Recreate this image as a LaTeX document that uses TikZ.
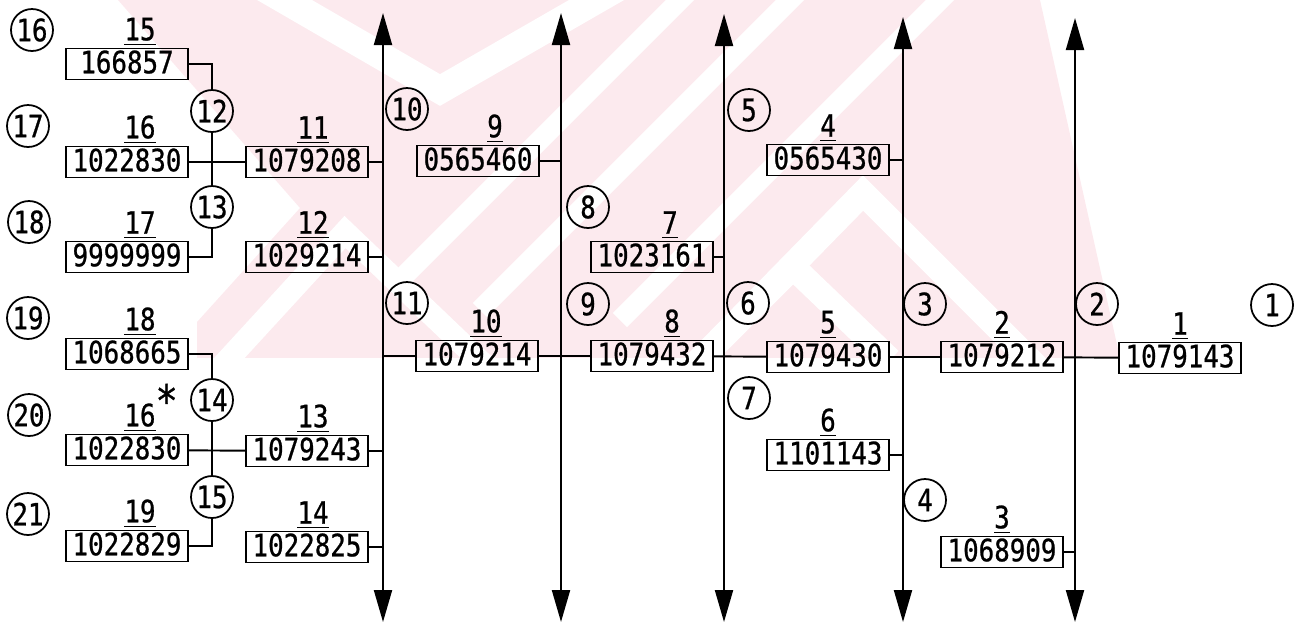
\documentclass[tikz,border=0pt]{standalone}
\usepackage{fontspec}
\usetikzlibrary{arrows.meta,positioning}
\newfontfamily\tapefont[FakeStretch=0.84,FakeBold=0.8]{DejaVu Sans Mono}
\definecolor{wash}{RGB}{252,234,238}
% underlined item number
\newcommand{\idn}[1]{\vtop{\hbox{#1}\kern1.6pt\hrule height 1.1pt}}

\begin{document}
\begin{tikzpicture}[
x=0.02cm, y=-0.02cm,
font=\tapefont\fontsize{17.5}{19}\selectfont,
box/.style={rectangle, draw, line width=1.1pt, minimum width=2.44cm, minimum height=0.62cm, inner sep=0pt, text height=0.47cm, text depth=0.1cm, label distance=0.1cm},
idx/.style={inner sep=1pt},
tag/.style={circle, draw, line width=1pt, minimum size=0.84cm, inner sep=0pt},
bus/.style={line width=1.2pt, {Triangle[length=0.64cm,width=0.36cm]}-{Triangle[length=0.64cm,width=0.36cm]}},
wire/.style={line width=1.1pt}
]
\useasboundingbox (0,0) rectangle (1300,627);

% pale stripes behind the upper half
\begin{scope}
\clip (118,0) -- (1040,0) -- (1120,358) -- (197,358) -- (197,322) -- (300,208) -- cycle;
\fill[wash] (0,0) rectangle (1300,358);
\draw[white, line width=0.55cm] (250,-20) -- (440,90) -- (640,-25);
\draw[white, line width=0.45cm] (200,390) -- (345,232) -- (500,380);
\draw[white, line width=0.4cm] (400,280) -- (690,-10);
\draw[white, line width=0.4cm] (480,310) -- (800,-10);
\draw[white, line width=0.4cm] (620,320) -- (950,-10);
\draw[white, line width=0.5cm] (680,380) -- (863,193) -- (1050,380);
\draw[white, line width=0.5cm] (700,360) -- (793,267) -- (890,360);
\end{scope}

% buses
\coordinate (t1) at (383,13);  \coordinate (u1) at (383,622);
\coordinate (t2) at (561,13);  \coordinate (u2) at (561,622);
\coordinate (t3) at (724,14);  \coordinate (u3) at (724,622);
\coordinate (t4) at (903,17);  \coordinate (u4) at (903,622);
\coordinate (t5) at (1075,18); \coordinate (u5) at (1075,622);
\foreach \n in {1,...,5}
  \draw[bus] (u\n) -- (t\n);

% boxes with their numbers
\node[box, label={[idx, xshift=0.26cm]above:\idn{15}}] (b15) at (127,64) {166857};
\node[box, label={[idx, xshift=0.26cm]above:\idn{16}}] (b16) at (127,162) {1022830};
\node[box, label={[idx, xshift=0.26cm]above:\idn{17}}] (b17) at (127,257) {9999999};
\node[box, label={[idx, xshift=0.26cm]above:\idn{18}}] (b18) at (127,354) {1068665};
\node[box, label={[idx, xshift=0.26cm]above:\idn{16}\rlap{\raisebox{0.32em}{\fontsize{25}{25}\selectfont*}}}] (b16s) at (127,450) {1022830};
\node[box, label={[idx, xshift=0.26cm]above:\idn{19}}] (b19) at (127,546) {1022829};

\node[box, label={[idx, xshift=0.12cm]above:\idn{11}}] (b11) at (307,162) {1079208};
\node[box, label={[idx, xshift=0.12cm]above:\idn{12}}] (b12) at (307,257) {1029214};
\node[box, label={[idx, xshift=0.12cm]above:\idn{13}}] (b13) at (307,451) {1079243};
\node[box, label={[idx, xshift=0.12cm]above:\idn{14}}] (b14) at (307,547) {1022825};

\node[box, label={[idx, xshift=0.34cm]above:\idn{9}}] (b9) at (478,161) {0565460};
\node[box, label={[idx, xshift=0.18cm]above:\idn{10}}] (b10) at (477,356) {1079214};

\node[box, label={[idx, xshift=0.36cm]above:\idn{7}}] (b7) at (652,257) {1023161};
\node[box, label={[idx, xshift=0.4cm]above:\idn{8}}] (b8) at (652,356) {1079432};

\node[box, label={[idx]above:\idn{4}}] (b4) at (828,160) {0565430};
\node[box, label={[idx]above:\idn{5}}] (b5) at (828,357) {1079430};
\node[box, label={[idx]above:\idn{6}}] (b6) at (828,455) {1101143};

\node[box, label={[idx]above:\idn{2}}] (b2) at (1002,357) {1079212};
\node[box, label={[idx]above:\idn{3}}] (b3) at (1002,552) {1068909};

\node[box, label={[idx]above:\idn{1}}] (b1) at (1180,358) {1079143};

% circled numbers
\node[tag] (c1) at (1272,305) {1};
\node[tag] (c2) at (1097,304) {2};
\node[tag] (c3) at (925,304) {3};
\node[tag] (c4) at (925,500) {4};
\node[tag] (c5) at (749,110) {5};
\node[tag] (c6) at (748,303) {6};
\node[tag] (c7) at (749,398) {7};
\node[tag] (c8) at (588,207) {8};
\node[tag] (c9) at (588,304) {9};
\node[tag] (c10) at (407,109) {10};
\node[tag] (c11) at (407,303) {11};
\node[tag] (c12) at (212,111) {12};
\node[tag] (c13) at (212,207) {13};
\node[tag] (c14) at (212,400) {14};
\node[tag] (c15) at (212,497) {15};
\node[tag] (c16) at (32,30) {16};
\node[tag] (c17) at (28,126) {17};
\node[tag] (c18) at (29,222) {18};
\node[tag] (c19) at (28,318) {19};
\node[tag] (c20) at (29,415) {20};
\node[tag] (c21) at (28,514) {21};

% main row
\draw[wire] (b10.west) -- (b10.west -| t1);
\draw[wire] (b10) -- (b8);
\draw[wire] (b8) -- (b5);
\draw[wire] (b5) -- (b2);
\draw[wire] (b2) -- (b1);

% stubs onto the buses
\draw[wire] (b11.east) -- (b11.east -| t1);
\draw[wire] (b12.east) -- (b12.east -| t1);
\draw[wire] (b13.east) -- (b13.east -| t1);
\draw[wire] (b14.east) -- (b14.east -| t1);
\draw[wire] (b9.east) -- (b9.east -| t2);
\draw[wire] (b7.east) -- (b7.east -| t3);
\draw[wire] (b4.east) -- (b4.east -| t4);
\draw[wire] (b6.east) -- (b6.east -| t4);
\draw[wire] (b3.east) -- (b3.east -| t5);

% left brackets
\draw[wire] (b16) -- (b11);
\draw[wire] (b15.east) -| (c12);
\draw[wire] (c12) -- (c13);
\draw[wire] (c13) |- (b17.east);
\draw[wire] (b16s) -- (b13);
\draw[wire] (b18.east) -| (c14);
\draw[wire] (c14) -- (c15);
\draw[wire] (c15) |- (b19.east);
\end{tikzpicture}
\end{document}
